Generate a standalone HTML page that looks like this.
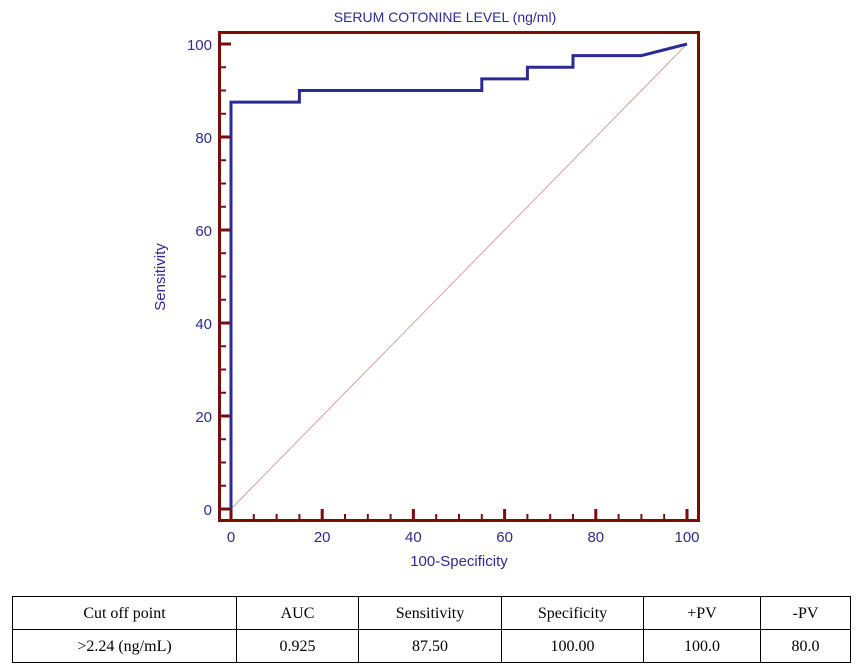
<!DOCTYPE html>
<html><head><meta charset="utf-8"><style>
body{margin:0;width:861px;height:672px;background:#fff;overflow:hidden;position:relative}
svg{position:absolute;left:0;top:0}
table{position:absolute;left:12px;top:596px;border-collapse:collapse;font-family:"Liberation Serif",serif;font-size:16px;color:#000}
td{border:1px solid #000;text-align:center;height:33px;padding:2px 0 0 0;box-sizing:border-box}
</style></head><body>
<svg width="861" height="590">
<g id="g"></g>
</svg>
<table>
<tr><td style="width:224px">Cut off point</td><td style="width:122px">AUC</td><td style="width:143px">Sensitivity</td><td style="width:142px">Specificity</td><td style="width:117px">+PV</td><td style="width:90px">-PV</td></tr>
<tr><td>&gt;2.24 (ng/mL)</td><td>0.925</td><td>87.50</td><td>100.00</td><td>100.0</td><td>80.0</td></tr>
</table>
<script>
const fprValues=[0,0,15,15,55,55,65,65,75,75,90,100];
const sensValues=[0,87.5,87.5,90,90,92.5,92.5,95,95,97.5,97.5,100];
const xTicks=[0,20,40,60,80,100];
const yTicks=[0,20,40,60,80,100];
const NS='http://www.w3.org/2000/svg';
const g=document.getElementById('g');
const X=v=>231+v*4.56, Y=v=>509-v*4.65;
const RED='#7a0c0c',BLUE='#2b2b96';
function el(t,a,txt){const e=document.createElementNS(NS,t);for(const k in a)e.setAttribute(k,a[k]);if(txt!=null)e.textContent=txt;g.appendChild(e);return e;}
let e;
e=el('line',{x1:X(0),y1:Y(0),x2:X(100),y2:Y(100),stroke:'#d9a0a0','stroke-width':1});


e=el('rect',{x:219.5,y:32.5,width:479,height:488,fill:'none',stroke:RED,'stroke-width':3});


for(let v=0;v<=100;v+=5){const maj=v%20===0;
 e=el('line',{x1:X(v),x2:X(v),y1:520,y2:maj?509:514,stroke:RED,'stroke-width':maj?3:2});
 
 
 e=el('line',{y1:Y(v),y2:Y(v),x1:220,x2:maj?231:226,stroke:RED,'stroke-width':maj?3:2});
 
 }
xTicks.forEach(v=>{e=el('text',{x:X(v),y:542,'text-anchor':'middle','font-family':'Liberation Sans,sans-serif','font-size':15,fill:BLUE},v);
 
 });
yTicks.forEach(v=>{e=el('text',{x:212,y:Y(v)+6,'text-anchor':'end','font-family':'Liberation Sans,sans-serif','font-size':15,fill:BLUE},v);
 
 });
e=el('polyline',{points:fprValues.map((v,i)=>X(v)+','+Y(sensValues[i])).join(' '),fill:'none',stroke:BLUE,'stroke-width':3});


e=el('text',{x:445,y:22,'text-anchor':'middle','font-family':'Liberation Sans,sans-serif','font-size':14,fill:BLUE},'SERUM COTONINE LEVEL (ng/ml)');


e=el('text',{x:459,y:566,'text-anchor':'middle','font-family':'Liberation Sans,sans-serif','font-size':15,fill:BLUE},'100-Specificity');


e=el('text',{x:0,y:0,'text-anchor':'middle','font-family':'Liberation Sans,sans-serif','font-size':15,fill:BLUE,transform:'translate(165,277) rotate(-90)'},'Sensitivity');


</script>
</body></html>
